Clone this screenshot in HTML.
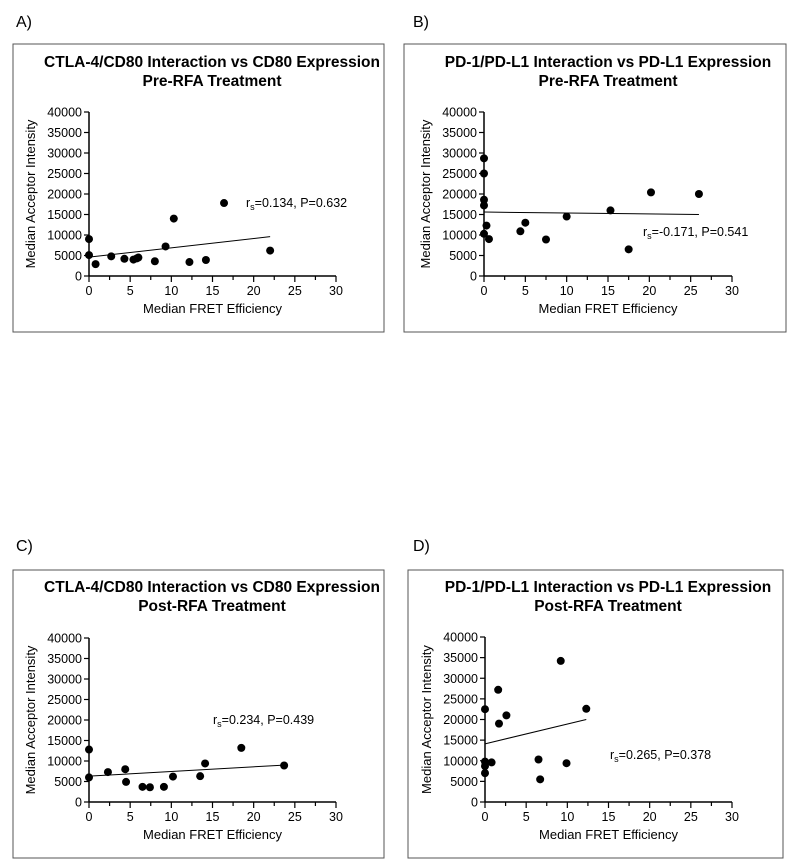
<!DOCTYPE html>
<html><head><meta charset="utf-8"><style>
body{margin:0;background:#fff;font-family:"Liberation Sans",Arial,sans-serif}
svg{display:block}
</style></head><body>
<svg id="s" width="792" height="868" xmlns="http://www.w3.org/2000/svg" font-family="Liberation Sans, Arial, sans-serif"></svg>
<script>
const xTicks=[0,5,10,15,20,25,30];
const yTicks=[0,5000,10000,15000,20000,25000,30000,35000,40000];
const aX=[0,0,0.8,2.7,4.3,5.4,5.8,6,8,9.3,10.3,12.2,14.2,16.4,22];
const aY=[9000,5100,2900,4800,4200,4000,4300,4500,3600,7200,14000,3400,3900,17800,6200];
const aFit=[[0,4600],[22,9600]];
const bX=[0,0,0,0,0.3,0,0.6,4.4,5,7.5,10,15.3,17.5,20.2,26];
const bY=[28700,25000,18600,17200,12300,10300,9000,10900,13000,8900,14500,16000,6500,20400,20000];
const bFit=[[0,15600],[26,15000]];
const cX=[0,0,2.3,4.4,4.5,6.5,7.4,9.1,10.2,13.5,14.1,18.5,23.7];
const cY=[12800,6000,7300,8000,4900,3700,3600,3700,6200,6300,9400,13200,8900];
const cFit=[[0,6300],[23.7,9000]];
const dX=[0,0,0,0,0.8,1.6,1.7,2.6,6.5,6.7,9.2,9.9,12.3];
const dY=[22500,9800,8700,7000,9600,27200,19000,21000,10300,5500,34200,9400,22600];
const dFit=[[0,14100],[12.3,20000]];

const S=document.getElementById('s');const NS='http://www.w3.org/2000/svg';
function el(t,a,p){const e=document.createElementNS(NS,t);for(const k in a)e.setAttribute(k,a[k]);(p||S).appendChild(e);return e;}
function txt(x,y,s,a,p){const e=el('text',Object.assign({x:x,y:y},a),p);e.textContent=s;return e;}

function panel(o){
  const g=el('g',{});
  
  
  const L=txt(o.lx,o.ly,o.letter,{'font-size':16},g);
  
  const b=el('rect',{x:o.bx,y:o.by,width:o.bw,height:o.bh,fill:'none',stroke:'#555','stroke-width':1},g);
  
  const cx=o.tc;
  const t1=txt(cx,o.ty,o.t1,{'font-size':15.5,'font-weight':'bold','text-anchor':'middle'},g);
  
  const t2=txt(cx,o.ty+19,o.t2,{'font-size':15.5,'font-weight':'bold','text-anchor':'middle'},g);
  
  const sx=v=>o.x0+(o.x1-o.x0)*v/30, sy=v=>o.y0-(o.y0-o.y1)*v/40000;
  const ya=el('line',{x1:o.x0,y1:o.y0,x2:o.x0,y2:o.y1,stroke:'#000','stroke-width':1.5},g);
  
  const xa=el('line',{x1:o.x0,y1:o.y0,x2:o.x1,y2:o.y0,stroke:'#000','stroke-width':1.5},g);
  
  yTicks.forEach(v=>{el('line',{x1:o.x0-5,y1:sy(v),x2:o.x0,y2:sy(v),stroke:'#000','stroke-width':1.2},g);
    const t=txt(o.x0-7,sy(v)+4.5,String(v),{'font-size':12.5,'text-anchor':'end'},g);
    });
  xTicks.forEach((v,i)=>{el('line',{x1:sx(v),y1:o.y0,x2:sx(v),y2:o.y0+6,stroke:'#000','stroke-width':1.2},g);
    if(i<xTicks.length-1)el('line',{x1:sx(v+2.5),y1:o.y0,x2:sx(v+2.5),y2:o.y0+4,stroke:'#000','stroke-width':1.2},g);
    const t=txt(sx(v),o.y0+19,String(v),{'font-size':12.5,'text-anchor':'middle'},g);
    });
  const xt=txt((o.x0+o.x1)/2,o.y0+37,'Median FRET Efficiency',{'font-size':13,'text-anchor':'middle'},g);
  
  const ym=(o.y0+o.y1)/2;
  const yt=txt(o.x0-54,ym,'Median Acceptor Intensity',{'font-size':13,'text-anchor':'middle',transform:'rotate(-90 '+(o.x0-54)+' '+ym+')'},g);
  
  const f=o.fit;
  const fl=el('line',{x1:sx(f[0][0]),y1:sy(f[0][1]),x2:sx(f[1][0]),y2:sy(f[1][1]),stroke:'#000','stroke-width':1},g);
  
  o.xs.forEach((v,i)=>{const c=el('circle',{cx:sx(v),cy:sy(o.ys[i]),r:4,fill:'#000'},g);
    });
  const an=el('text',{x:o.ax,y:o.ay,'font-size':12.5},g);
  
  an.innerHTML='r<tspan font-size="9" dy="3">s</tspan><tspan dy="-3">='+o.r+', P='+o.p+'</tspan>';
}
panel({id:'a',letter:'A)',lx:16,ly:27,bx:13,by:44,bw:371,bh:288,x0:89,x1:336,y0:276,y1:112,tc:212,ty:67,t1:'CTLA-4/CD80 Interaction vs CD80 Expression',t2:'Pre-RFA Treatment',xs:aX,ys:aY,fit:aFit,ax:246,ay:207,r:'0.134',p:'0.632'});
panel({id:'b',letter:'B)',lx:413,ly:27,bx:404,by:44,bw:382,bh:288,x0:484,x1:732,y0:276,y1:112,tc:608,ty:67,t1:'PD-1/PD-L1 Interaction vs PD-L1 Expression',t2:'Pre-RFA Treatment',xs:bX,ys:bY,fit:bFit,ax:643,ay:236,r:'-0.171',p:'0.541'});
panel({id:'c',letter:'C)',lx:16,ly:551,bx:13,by:570,bw:371,bh:288,x0:89,x1:336,y0:802,y1:638,tc:212,ty:592,t1:'CTLA-4/CD80 Interaction vs CD80 Expression',t2:'Post-RFA Treatment',xs:cX,ys:cY,fit:cFit,ax:213,ay:724,r:'0.234',p:'0.439'});
panel({id:'d',letter:'D)',lx:413,ly:551,bx:408,by:570,bw:375,bh:288,x0:485,x1:732,y0:802,y1:637,tc:608,ty:592,t1:'PD-1/PD-L1 Interaction vs PD-L1 Expression',t2:'Post-RFA Treatment',xs:dX,ys:dY,fit:dFit,ax:610,ay:759,r:'0.265',p:'0.378'});
</script>
</body></html>
